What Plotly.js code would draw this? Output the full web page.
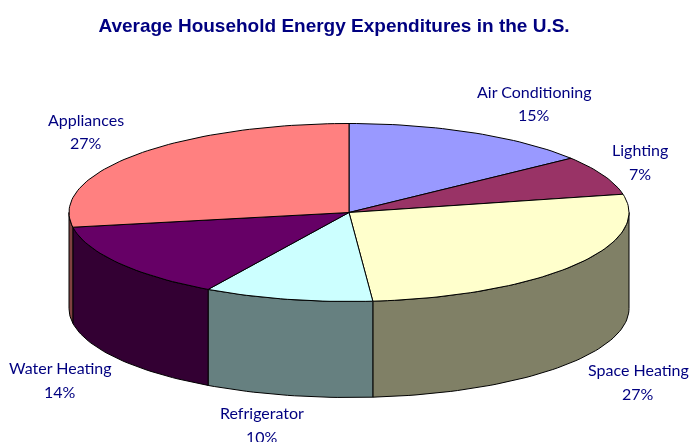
<!DOCTYPE html>
<html>
<head>
<meta charset="utf-8">
<script src="https://cdn.plot.ly/plotly-3.0.1.min.js"></script>
<style>
html,body{margin:0;padding:0;background:#fff;}
#chart{width:691px;height:442px;filter:blur(0.45px);}
</style>
</head>
<body>
<div id="chart"></div>
<script>
// Data
var categories = ["Air Conditioning", "Lighting", "Space Heating", "Refrigerator", "Water Heating", "Appliances"];
var shares     = [14.5, 7.1, 26.8, 9.7, 13.9, 27.5];
var percentLabels = ["15%", "7%", "27%", "10%", "14%", "27%"];

// Styles
var topColors  = ["#9999FF", "#993366", "#FFFFCC", "#CCFFFF", "#660066", "#FF8080"];
var sideColors = ["#4D4D80", "#4D1A33", "#808066", "#668080", "#330033", "#804040"];
var labelX = [534, 640, 638, 262, 60, 86];
var labelY = [103, 161.5, 381.5, 424.5, 379.5, 131];
var lineGap = 23.5;

// Pie geometry in axis units
var cx = 349, cy = 212.5, rx = 280, ry = 89, depth = 96;
var titleColor = "#000080";

function pt(tDeg, drop) {
  var t = tDeg * Math.PI / 180;
  return [cx + rx * Math.sin(t), cy - ry * Math.cos(t) + (drop || 0)];
}
function arc(a, b, drop) {
  var pts = [], n = Math.max(2, Math.ceil(Math.abs(b - a) / 1.5));
  for (var i = 0; i <= n; i++) pts.push(pt(a + (b - a) * i / n, drop));
  return pts;
}
function polyTrace(pts, color) {
  return {
    type: "scatter", mode: "lines", x: pts.map(function(p){return p[0];}), y: pts.map(function(p){return p[1];}),
    fill: "toself", fillcolor: color, line: {color: "#000000", width: 1},
    hoverinfo: "skip", showlegend: false
  };
}

var total = shares.reduce(function(s, v){return s + v;}, 0);
var bounds = [0];
shares.forEach(function(v, i){ bounds.push(bounds[i] + v / total * 360); });

var traces = [];
// Side walls: only the front half of the rim is visible
shares.forEach(function(v, i){
  var a = Math.max(bounds[i], 90), b = Math.min(bounds[i + 1], 270);
  if (b <= a) return;
  var pts = arc(a, b, 0).concat(arc(b, a, depth));
  pts.push(pts[0]);
  traces.push(polyTrace(pts, sideColors[i]));
});
// Top faces
shares.forEach(function(v, i){
  var pts = [[cx, cy]].concat(arc(bounds[i], bounds[i + 1], 0));
  pts.push([cx, cy]);
  traces.push(polyTrace(pts, topColors[i]));
});

function labelLine(text, x, y) {
  return {
    x: x, y: y, xref: "x", yref: "y", showarrow: false,
    text: text, align: "center", xanchor: "center", yanchor: "middle",
    font: {family: "Lato, sans-serif", size: 16, color: titleColor}
  };
}
var annotations = [];
categories.forEach(function(c, i){
  annotations.push(labelLine(c, labelX[i], labelY[i] - lineGap / 2));
  annotations.push(labelLine(percentLabels[i], labelX[i], labelY[i] + lineGap / 2));
});

var layout = {
  width: 691, height: 442,
  margin: {l: 0, r: 0, t: 0, b: 0},
  paper_bgcolor: "#FFFFFF", plot_bgcolor: "#FFFFFF",
  showlegend: false,
  title: {
    text: "<b>Average Household Energy Expenditures in the U.S.</b>",
    x: 334 / 691, xanchor: "center", y: 1 - 25 / 442, yanchor: "middle",
    font: {family: "Liberation Sans, Arial, sans-serif", size: 19, color: titleColor}
  },
  xaxis: {range: [0, 691], visible: false, fixedrange: true},
  yaxis: {range: [442, 0], visible: false, fixedrange: true},
  annotations: annotations
};
Plotly.newPlot("chart", traces, layout, {displayModeBar: false, staticPlot: true});
</script>
</body>
</html>
